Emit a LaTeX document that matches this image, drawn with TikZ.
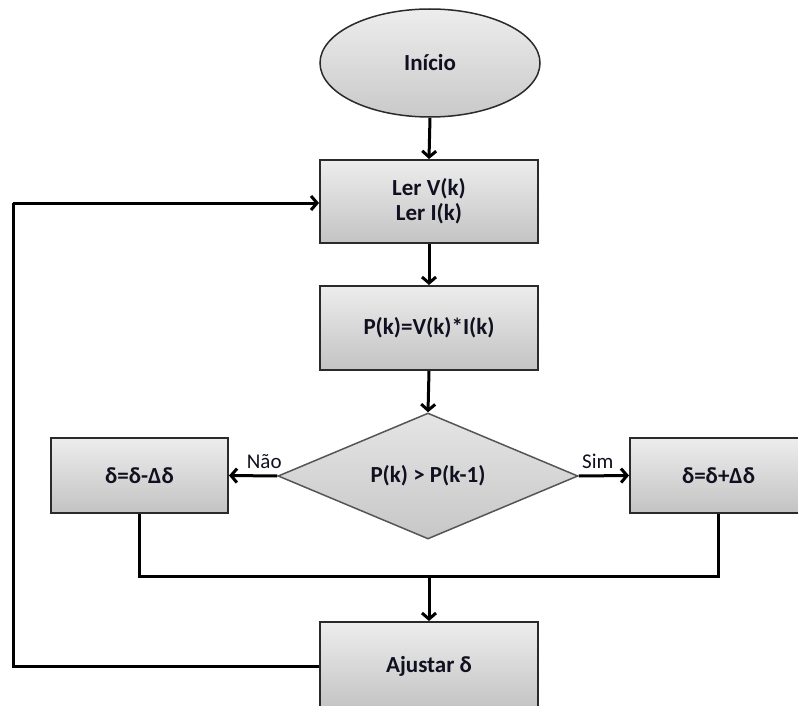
\documentclass[tikz,border=0pt]{standalone}
\usepackage{fontspec}
\setmainfont{Carlito}
\usetikzlibrary{shapes.geometric,arrows.meta}
\definecolor{boxtop}{HTML}{EDEDED}
\definecolor{boxbot}{HTML}{C3C3C3}
\definecolor{edge}{HTML}{2A2A2A}
\definecolor{ink}{HTML}{101020}
\tikzset{
  procbox/.style={rectangle, draw=edge, line width=2pt, top color=boxtop, bottom color=boxbot,
    inner sep=0pt, align=center, text=ink, font=\fontsize{23}{26}\selectfont\bfseries},
  startshape/.style={ellipse, draw=edge, line width=1.5pt, top color=boxtop, bottom color=boxbot!90,
    inner sep=0pt, minimum width=220pt, minimum height=108pt, text=ink,
    font=\fontsize{23}{26}\selectfont\bfseries},
  decshape/.style={diamond, aspect=2.38, draw=edge!80, line width=1.5pt, top color=boxtop!80!boxbot, bottom color=boxbot!90!boxtop,
    inner sep=0pt, minimum width=300pt, minimum height=126pt, text=ink,
    font=\fontsize{23}{26}\selectfont\bfseries},
  flow/.style={line width=3pt, draw=black, -{Straight Barb[length=6pt,width=14pt,line width=3pt]}},
  wire/.style={line width=3pt, draw=black, line join=miter},
  branchlabel/.style={font=\fontsize{21}{24}\selectfont, text=ink, inner sep=2pt, above=4pt}
}
\begin{document}
\begin{tikzpicture}[x=1pt,y=-1pt]
  \useasboundingbox (0,0) rectangle (798,706);
  \clip (0,0) rectangle (798,706);

  % blocks of the flowchart
  \node[startshape] (inicio) at (430,63) {Início};
  \node[procbox, minimum width=218pt, minimum height=83pt] (ler) at (429,201.5) {Ler V(k)\\[-1pt]Ler I(k)};
  \node[procbox, minimum width=218pt, minimum height=84pt] (pot) at (429,328) {P(k)=V(k)*I(k)};
  \node[decshape] (cmp) at (428,476) {P(k) > P(k-1)};
  \node[procbox, minimum width=177pt, minimum height=75pt] (menos) at (139.5,475.5) {δ=δ-Δδ};
  \node[procbox, minimum width=177pt, minimum height=75pt] (mais) at (718.5,475.5) {δ=δ+Δδ};
  \node[procbox, minimum width=218pt, minimum height=88pt] (ajuste) at (429,666) {Ajustar δ};

  % helper points for the merge and the feedback loop
  \coordinate (merge) at (429,576);
  \coordinate (loopbot) at (13,666);
  \coordinate (looptop) at (13,203);

  % connectors
  \draw[flow] (inicio.south) -- (ler.north);
  \draw[flow] (ler.south) -- (pot.north);
  \draw[flow] (pot.south) -- (cmp.north);
  \draw[flow] (cmp.west) -- node[branchlabel, pos=0.27] {Não} (menos.east);
  \draw[flow] (cmp.east) -- node[branchlabel, pos=0.38] {Sim} (mais.west);
  \draw[wire] (menos.south) |- (merge) -| (mais.south);
  \draw[flow] (merge) -- (ajuste.north);
  \draw[wire] (ajuste.west |- loopbot) -- (loopbot) -- (looptop);
  \draw[flow] (looptop) -- (ler.west |- looptop);
\end{tikzpicture}
\end{document}
